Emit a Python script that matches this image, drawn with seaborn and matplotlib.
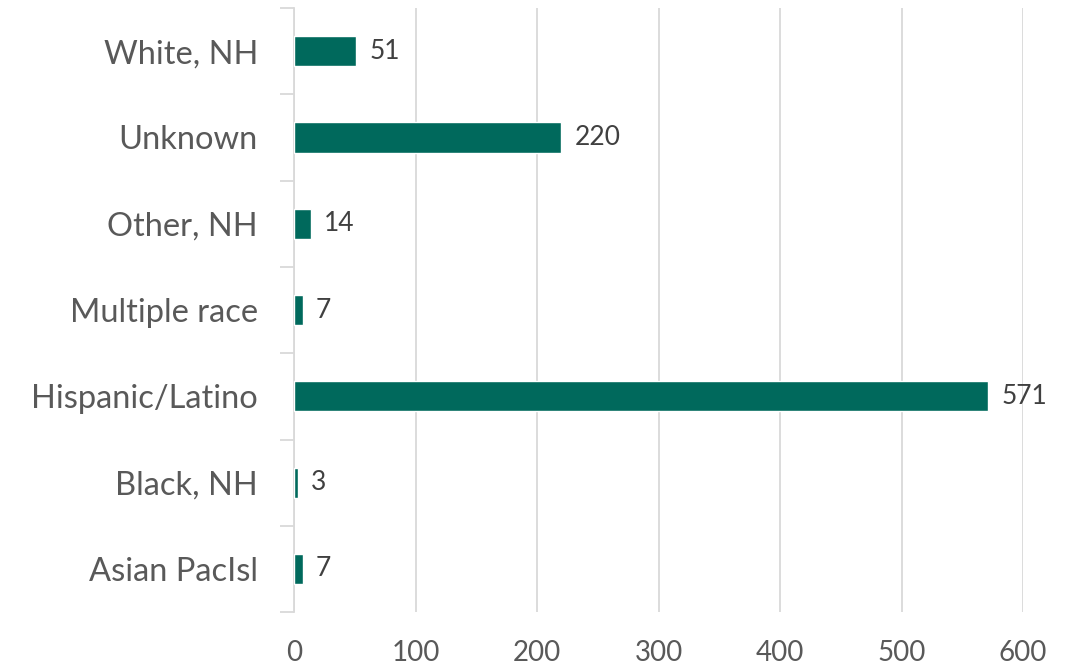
import matplotlib
matplotlib.use('Agg')
import matplotlib.pyplot as plt
import seaborn as sns
import pandas as pd

categorias = ['White, NH', 'Unknown', 'Other, NH', 'Multiple race',
              'Hispanic/Latino', 'Black, NH', 'Asian PacIsl']
valores = [51, 220, 14, 7, 571, 3, 7]

VERDE = '#00695C'
GRIS_TXT = '#595959'

sns.set_theme(style='white')
plt.rcParams['font.family'] = ['Lato', 'DejaVu Sans']

df = pd.DataFrame({'cat': categorias, 'n': valores})

fig = plt.figure(figsize=(10.66, 6.69), dpi=100)
ax = fig.add_axes([0.2758, 0.085, 0.6839, 0.903])

sns.barplot(data=df, x='n', y='cat', order=categorias, orient='h',
            color=VERDE, width=0.35, saturation=1, ax=ax, zorder=3)

ax.set_xlim(0, 600)
ax.set_ylim(len(categorias) - 0.5, -0.5)
ax.set_xticks(range(0, 601, 100))
ax.grid(axis='x', color='#D9D9D9', linewidth=1.3, zorder=0)
ax.set_xlabel('')
ax.set_ylabel('')

for s in ['top', 'right', 'bottom']:
    ax.spines[s].set_visible(False)
ax.spines['left'].set_color('#D9D9D9')
ax.spines['left'].set_linewidth(1.3)

ax.tick_params(axis='x', length=0, labelsize=20, labelcolor=GRIS_TXT, pad=20)
ax.tick_params(axis='y', which='major', length=0, labelsize=23.5, labelcolor=GRIS_TXT, pad=26)
ax.set_yticks([i - 0.5 for i in range(len(categorias) + 1)], minor=True)
ax.tick_params(axis='y', which='minor', length=10, width=1.3, color='#D9D9D9', left=True)

for i, v in enumerate(valores):
    ax.text(v + 11, i, f'{v}', va='center', ha='left', fontsize=19, color='#404040')

fig.savefig('out.png', dpi=100)
